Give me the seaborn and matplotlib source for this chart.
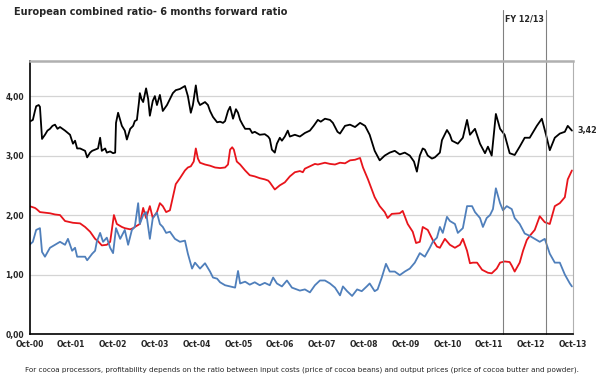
import numpy as np
import pandas as pd
import matplotlib
matplotlib.use('Agg')
import matplotlib.pyplot as plt
import seaborn as sns

# years since Oct-00
black_t = [0, 0.08, 0.13, 0.16, 0.22, 0.25, 0.30, 0.37, 0.43, 0.49, 0.55, 0.61, 0.67, 0.73, 0.85, 0.97,
           1.04, 1.09, 1.14, 1.21, 1.27, 1.33, 1.38, 1.45, 1.50, 1.57, 1.64, 1.69, 1.73, 1.81, 1.85, 1.93,
           2.00, 2.05, 2.07, 2.12, 2.17, 2.21, 2.28, 2.33, 2.41, 2.48, 2.52, 2.57, 2.62, 2.64, 2.68, 2.72,
           2.79, 2.84, 2.88, 2.95, 3.00, 3.05, 3.12, 3.19, 3.24, 3.29, 3.36, 3.43, 3.50, 3.60, 3.67, 3.72,
           3.79, 3.86, 3.91, 3.98, 4.03, 4.08, 4.15, 4.20, 4.27, 4.32, 4.39, 4.49, 4.56, 4.63, 4.68, 4.75,
           4.80, 4.87, 4.94, 4.99, 5.04, 5.10, 5.16, 5.27, 5.33, 5.39, 5.51, 5.63, 5.71, 5.75, 5.80, 5.87,
           5.92, 5.99, 6.04, 6.11, 6.18, 6.23, 6.35, 6.47, 6.59, 6.71, 6.80, 6.90, 6.97, 7.07, 7.19, 7.26,
           7.37, 7.43, 7.55, 7.67, 7.79, 7.91, 8.03, 8.14, 8.26, 8.38, 8.50, 8.62, 8.74, 8.86, 8.98, 9.10,
           9.20, 9.27, 9.34, 9.41, 9.46, 9.53, 9.63, 9.70, 9.82, 9.87, 9.99, 10.06, 10.11, 10.25, 10.37, 10.47,
           10.54, 10.66, 10.78, 10.90, 10.97, 11.06, 11.16, 11.26, 11.37, 11.49, 11.61, 11.73, 11.85, 11.97,
           12.14, 12.26, 12.36, 12.45, 12.57, 12.69, 12.81, 12.88, 12.98]
black_v = [3.57, 3.60, 3.75, 3.83, 3.85, 3.82, 3.28, 3.35, 3.42, 3.45, 3.50, 3.52, 3.45, 3.48, 3.42, 3.35,
           3.20, 3.25, 3.12, 3.12, 3.10, 3.08, 2.97, 3.05, 3.08, 3.10, 3.12, 3.30, 3.08, 3.12, 3.05, 3.07,
           3.04, 3.05, 3.55, 3.72, 3.60, 3.50, 3.42, 3.27, 3.45, 3.50, 3.58, 3.60, 3.90, 4.05, 3.95, 3.90,
           4.13, 3.95, 3.67, 3.92, 4.00, 3.85, 4.02, 3.75, 3.80, 3.85, 3.95, 4.05, 4.10, 4.12, 4.15, 4.17,
           4.00, 3.72, 3.85, 4.18, 3.92, 3.85, 3.88, 3.90, 3.85, 3.75, 3.65, 3.56, 3.57, 3.55, 3.58, 3.75,
           3.82, 3.62, 3.78, 3.72, 3.60, 3.52, 3.45, 3.45, 3.38, 3.40, 3.35, 3.36, 3.32, 3.28, 3.10, 3.05,
           3.20, 3.30, 3.25, 3.32, 3.42, 3.32, 3.35, 3.32, 3.38, 3.42, 3.50, 3.60, 3.57, 3.62, 3.60, 3.55,
           3.40, 3.37, 3.50, 3.52, 3.48, 3.55, 3.50, 3.35, 3.08, 2.92, 3.00, 3.05, 3.08, 3.02, 3.05, 3.00,
           2.90, 2.73, 3.00, 3.12, 3.10, 3.00, 2.95, 2.97, 3.05, 3.26, 3.43, 3.35, 3.25, 3.20, 3.30, 3.60,
           3.35, 3.45, 3.20, 3.04, 3.15, 3.00, 3.70, 3.45, 3.35, 3.04, 3.01, 3.15, 3.30, 3.30,
           3.50, 3.62, 3.35, 3.09, 3.30, 3.37, 3.40, 3.50, 3.42]

red_t = [0, 0.13, 0.17, 0.25, 0.37, 0.49, 0.61, 0.73, 0.85, 1.04, 1.21, 1.27, 1.33, 1.45, 1.57, 1.64,
         1.73, 1.85, 1.93, 1.97, 2.02, 2.09, 2.21, 2.28, 2.41, 2.48, 2.52, 2.64, 2.72, 2.79, 2.88, 2.95,
         3.05, 3.12, 3.19, 3.27, 3.36, 3.43, 3.50, 3.60, 3.72, 3.79, 3.86, 3.93, 3.98, 4.03, 4.08, 4.20,
         4.32, 4.44, 4.56, 4.68, 4.75, 4.80, 4.85, 4.89, 4.96, 5.04, 5.16, 5.27, 5.39, 5.51, 5.63, 5.71,
         5.75, 5.87, 5.99, 6.11, 6.23, 6.35, 6.47, 6.54, 6.59, 6.71, 6.83, 6.90, 7.07, 7.19, 7.31, 7.43,
         7.55, 7.67, 7.79, 7.91, 7.98, 8.10, 8.26, 8.38, 8.50, 8.57, 8.67, 8.86, 8.93, 9.05, 9.17, 9.25,
         9.34, 9.41, 9.53, 9.65, 9.75, 9.82, 9.94, 10.06, 10.18, 10.30, 10.37, 10.47, 10.54, 10.61, 10.71,
         10.83, 10.97, 11.06, 11.18, 11.26, 11.37, 11.49, 11.54, 11.61, 11.73, 11.81, 11.90, 11.97, 12.09,
         12.21, 12.33, 12.45, 12.57, 12.69, 12.81, 12.88, 12.98]
red_v = [2.15, 2.12, 2.10, 2.05, 2.04, 2.03, 2.01, 2.00, 1.90, 1.87, 1.86, 1.83, 1.80, 1.72, 1.60, 1.56,
         1.49, 1.50, 1.55, 1.75, 2.00, 1.85, 1.80, 1.78, 1.76, 1.78, 1.80, 1.85, 2.12, 1.95, 2.15, 1.95,
         2.05, 2.20, 2.15, 2.05, 2.08, 2.30, 2.52, 2.62, 2.75, 2.80, 2.82, 2.90, 3.12, 2.95, 2.88, 2.85,
         2.83, 2.80, 2.79, 2.80, 2.85, 3.10, 3.14, 3.10, 2.90, 2.85, 2.75, 2.67, 2.65, 2.62, 2.60, 2.58,
         2.55, 2.43, 2.50, 2.55, 2.65, 2.72, 2.74, 2.72, 2.78, 2.82, 2.86, 2.85, 2.88, 2.86, 2.85, 2.88,
         2.87, 2.92, 2.93, 2.96, 2.80, 2.60, 2.30, 2.15, 2.05, 1.95, 2.02, 2.03, 2.07, 1.85, 1.72, 1.53,
         1.55, 1.80, 1.75, 1.58, 1.47, 1.45, 1.60, 1.50, 1.45, 1.50, 1.60, 1.40, 1.19, 1.20, 1.20,
         1.08, 1.03, 1.02, 1.10, 1.20, 1.22, 1.21, 1.15, 1.05, 1.20, 1.40, 1.58, 1.65, 1.75,
         1.98, 1.88, 1.85, 2.15, 2.20, 2.30, 2.60, 2.75]

blue_t = [0, 0.08, 0.16, 0.25, 0.30, 0.37, 0.49, 0.61, 0.73, 0.85, 0.92, 1.02, 1.09, 1.14, 1.21, 1.33,
          1.38, 1.50, 1.57, 1.61, 1.69, 1.76, 1.85, 1.93, 2.00, 2.07, 2.17, 2.28, 2.36, 2.45, 2.52, 2.60,
          2.64, 2.72, 2.79, 2.88, 2.95, 3.05, 3.12, 3.19, 3.27, 3.36, 3.48, 3.60, 3.72, 3.79, 3.89, 3.96,
          4.08, 4.20, 4.32, 4.39, 4.49, 4.56, 4.68, 4.80, 4.92, 4.99, 5.04, 5.16, 5.27, 5.39, 5.51, 5.63,
          5.75, 5.83, 5.92, 6.04, 6.16, 6.28, 6.47, 6.59, 6.71, 6.83, 6.95, 7.07, 7.19, 7.31, 7.43, 7.50,
          7.60, 7.72, 7.84, 7.95, 8.07, 8.14, 8.26, 8.33, 8.43, 8.53, 8.62, 8.74, 8.86, 8.98, 9.10, 9.22,
          9.34, 9.46, 9.58, 9.65, 9.75, 9.82, 9.89, 9.99, 10.06, 10.18, 10.25, 10.37, 10.47, 10.59, 10.66,
          10.78, 10.85, 10.94, 11.02, 11.09, 11.16, 11.26, 11.33, 11.42, 11.54, 11.61, 11.73, 11.85, 11.97,
          12.09, 12.21, 12.33, 12.45, 12.57, 12.69, 12.81, 12.93, 12.98]
blue_v = [1.50, 1.55, 1.75, 1.78, 1.38, 1.30, 1.45, 1.50, 1.55, 1.50, 1.60, 1.40, 1.45, 1.30, 1.30, 1.30,
          1.24, 1.35, 1.40, 1.55, 1.70, 1.55, 1.62, 1.45, 1.36, 1.78, 1.60, 1.75, 1.50, 1.75, 1.80, 2.20,
          1.85, 2.00, 2.05, 1.60, 1.95, 2.04, 1.85, 1.80, 1.70, 1.72, 1.60, 1.55, 1.57, 1.35, 1.10, 1.20,
          1.10, 1.19, 1.05, 0.95, 0.93, 0.87, 0.82, 0.80, 0.78, 1.06, 0.85, 0.88, 0.83, 0.87, 0.82, 0.86,
          0.82, 0.95, 0.85, 0.80, 0.90, 0.78, 0.73, 0.75, 0.70, 0.82, 0.90, 0.90, 0.85, 0.78, 0.65, 0.80,
          0.72, 0.64, 0.75, 0.72, 0.80, 0.85, 0.72, 0.75, 0.95, 1.18, 1.05, 1.05, 0.99, 1.05, 1.10, 1.20,
          1.36, 1.30, 1.45, 1.55, 1.62, 1.80, 1.70, 1.97, 1.90, 1.85, 1.70, 1.78, 2.15, 2.15, 2.05,
          1.95, 1.80, 1.95, 2.00, 2.10, 2.45, 2.20, 2.08, 2.15, 2.10, 1.95, 1.85, 1.69, 1.65,
          1.60, 1.55, 1.60, 1.35, 1.20, 1.20, 1.00, 0.85, 0.80]

x_ticks = list(range(14))
x_labels = ['Oct-%02d' % (y % 100) for y in range(2000, 2014)]
y_ticks = [0, 1, 2, 3, 4]
y_labels = ['0,00', '1,00', '2,00', '3,00', '4,00']
fy_bounds = [11.32, 12.36]

sns.set_style('white')
plt.rcParams['font.family'] = ['DejaVu Sans']

fig = plt.figure(figsize=(6.07, 3.79), dpi=100)
ax = fig.add_axes([0.0486, 0.1187, 0.895, 0.7203])

sns.lineplot(x=black_t, y=black_v, color='black', linewidth=1.3, ax=ax)
sns.lineplot(x=red_t, y=red_v, color='#e8141b', linewidth=1.3, ax=ax)
sns.lineplot(x=blue_t, y=blue_v, color='#4f7fbb', linewidth=1.3, ax=ax)

ax.set_xlim(0, 13)
ax.set_ylim(0, 4.59)
ax.set_xticks(x_ticks)
ax.set_xticklabels(x_labels, fontsize=5.5, fontweight='bold')
ax.set_yticks(y_ticks)
ax.set_yticklabels(y_labels, fontsize=5.5, fontweight='bold')
ax.tick_params(axis='x', length=2, width=0.6, pad=2, color='#999999')
ax.tick_params(axis='y', length=0, pad=4)
ax.yaxis.grid(True, color='#d4d4d4', linewidth=0.9)
ax.set_axisbelow(True)

ax.spines['left'].set_color('black')
ax.spines['left'].set_linewidth(1.2)
ax.spines['bottom'].set_color('black')
ax.spines['bottom'].set_linewidth(1.2)
ax.spines['top'].set_color('#b0b0b0')
ax.spines['top'].set_linewidth(1.8)
ax.spines['right'].set_color('#b0b0b0')
ax.spines['right'].set_linewidth(0.8)

for xb in fy_bounds:
    ax.axvline(xb, ymin=0, ymax=1.187, color='#808080', linewidth=0.8, clip_on=False)
ax.text(sum(fy_bounds) / 2, 4.59 * 1.155, 'FY 12/13', ha='center', va='center',
        fontsize=5.8, fontweight='bold')

last_label = ('%.2f' % black_v[-1]).replace('.', ',')
ax.annotate(last_label, xy=(black_t[-1], black_v[-1]), xytext=(4, 0),
            textcoords='offset points', ha='left', va='center',
            fontsize=5.8, fontweight='bold', annotation_clip=False)

fig.text(0.023, 0.968, 'European combined ratio- 6 months forward ratio', ha='left', va='center',
         fontsize=7, fontweight='bold')
fig.text(0.042, 0.024, 'For cocoa processors, profitability depends on the ratio between input costs '
         '(price of cocoa beans) and output prices (price of cocoa butter and powder).',
         ha='left', va='center', fontsize=5.2)

fig.savefig('out.png', dpi=100)
